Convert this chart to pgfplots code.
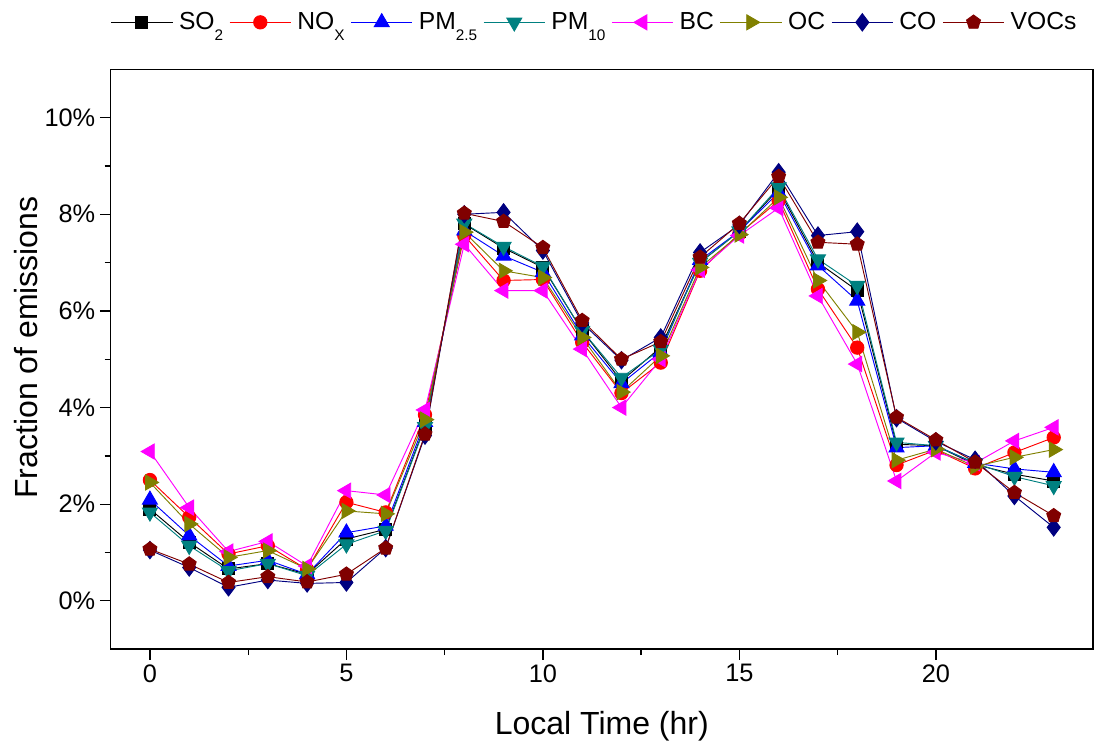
\documentclass[border=0pt]{standalone}
\usepackage{pgfplots}
\pgfplotsset{compat=1.18}
\usepackage{fontspec}
\setmainfont{Liberation Sans}
\definecolor{cteal}{RGB}{0,128,128}
\definecolor{colive}{RGB}{128,128,0}
\definecolor{cnavy}{RGB}{0,0,128}
\definecolor{cmaroon}{RGB}{128,0,0}
\definecolor{cmag}{RGB}{255,0,255}
\definecolor{cred}{RGB}{255,0,0}
\definecolor{cblue}{RGB}{0,0,255}
\newcommand{\sub}[1]{\raisebox{-8pt}{\fontsize{11.5}{12}\selectfont #1}}
\pgfplotstableread{
h SO2 NOx PM25 PM10 BC OC CO VOC
0 1.90 2.50 2.09 1.83 3.09 2.45 1.05 1.07
1 1.21 1.73 1.35 1.14 1.93 1.59 0.69 0.76
2 0.66 0.97 0.72 0.62 1.02 0.90 0.28 0.38
3 0.77 1.14 0.84 0.77 1.23 1.04 0.43 0.50
4 0.55 0.65 0.55 0.52 0.72 0.66 0.36 0.39
5 1.28 2.04 1.41 1.17 2.28 1.86 0.38 0.55
6 1.48 1.83 1.55 1.45 2.19 1.80 1.09 1.09
7 3.62 3.85 3.70 3.60 3.95 3.75 3.42 3.45
8 7.80 7.56 7.66 7.81 7.38 7.63 8.00 8.02
9 7.30 6.63 7.14 7.33 6.42 6.83 8.04 7.85
10 6.90 6.65 6.80 6.92 6.42 6.69 7.25 7.31
11 5.59 5.35 5.49 5.59 5.21 5.45 5.75 5.80
12 4.55 4.30 4.50 4.62 4.00 4.32 4.98 5.00
13 5.25 4.93 5.15 5.20 5.00 5.07 5.45 5.36
14 7.00 6.83 7.05 7.00 6.85 6.90 7.21 7.11
15 7.65 7.60 7.65 7.65 7.56 7.58 7.78 7.81
16 8.52 8.28 8.45 8.56 8.13 8.35 8.87 8.78
17 7.00 6.45 6.94 7.07 6.31 6.63 7.56 7.42
18 6.42 5.24 6.21 6.52 4.90 5.56 7.64 7.38
19 3.24 2.81 3.17 3.28 2.48 2.91 3.78 3.80
20 3.21 3.12 3.21 3.21 3.07 3.14 3.30 3.33
21 2.82 2.74 2.85 2.85 2.85 2.78 2.92 2.87
22 2.62 3.07 2.73 2.57 3.31 2.97 2.17 2.24
23 2.48 3.38 2.66 2.38 3.59 3.13 1.52 1.76
}\datatable
\begin{document}
\begin{tikzpicture}
\begin{axis}[
  scale only axis,
  width=737pt, height=435pt,
  xmin=-1, xmax=24, ymin=-1, ymax=11,
  xtick={0,5,...,20}, minor x tick num=1,
  ytick={0,2,...,10}, minor y tick num=1,
  yticklabel={\pgfmathprintnumber{\tick}\%},
  /pgf/number format/assume math mode=true,
  tick pos=left, tick align=outside,
  major tick length=8pt, minor tick length=4.5pt,
  axis line style={line width=1pt},
  every tick/.style={black, line width=1pt},
  ticklabel style={font=\fontsize{19}{22}\selectfont},
  xlabel={Local Time (hr)}, ylabel={Fraction of emissions},
  label style={font=\fontsize{24}{28}\selectfont},
  x label style={at={(axis description cs:0.5,-0.133)}, anchor=center},
  y label style={at={(axis description cs:-0.086,0.52)}, anchor=center},
  legend columns=8,
  legend style={at={(0.493,1.081)}, anchor=center, draw=none, fill=none,
    font=\fontsize{18.5}{22}\selectfont, column sep=2.5pt},
  legend image code/.code={\draw[mark repeat=2,mark phase=2] plot coordinates {(0pt,0pt) (23pt,0pt) (46pt,0pt)};},
  every axis plot/.append style={line width=0.7pt},
]
\addplot[black, mark=square*, mark size=4.5pt, mark options={solid}] table[x=h,y=SO2]{\datatable};
\addlegendentry{SO\sub{2}}
\addplot[cred, mark=*, mark size=5pt, mark options={solid}] table[x=h,y=NOx]{\datatable};
\addlegendentry{NO\sub{X}}
\addplot[cblue, mark=triangle*, mark size=6.5pt, mark options={solid}] table[x=h,y=PM25]{\datatable};
\addlegendentry{PM\sub{2.5}}
\addplot[cteal, mark=triangle*, mark size=6.5pt, mark options={solid, rotate=180}] table[x=h,y=PM10]{\datatable};
\addlegendentry{PM\sub{10}}
\addplot[cmag, mark=triangle*, mark size=6.5pt, mark options={solid, rotate=90}] table[x=h,y=BC]{\datatable};
\addlegendentry{BC}
\addplot[colive, mark=triangle*, mark size=6.5pt, mark options={solid, rotate=-90}] table[x=h,y=OC]{\datatable};
\addlegendentry{OC}
\addplot[cnavy, mark=diamond*, mark size=6.5pt, mark options={solid}] table[x=h,y=CO]{\datatable};
\addlegendentry{CO}
\addplot[cmaroon, mark=pentagon*, mark size=5.5pt, mark options={solid}] table[x=h,y=VOC]{\datatable};
\addlegendentry{VOCs}
\end{axis}
\path (current axis.north east) ++(3pt,52pt);
\path (current axis.south west) ++(-83pt,-71pt);
\end{tikzpicture}
\end{document}
